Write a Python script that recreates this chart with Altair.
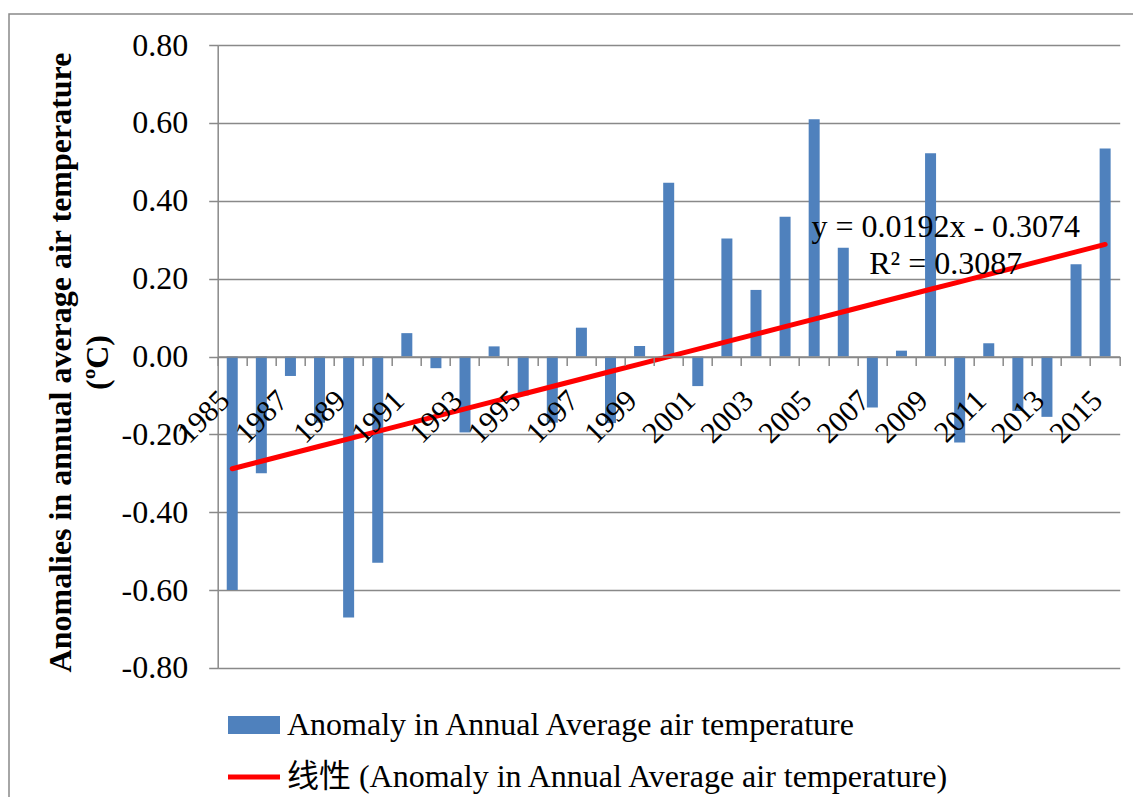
import altair as alt
import pandas as pd

# ---------------- data ----------------
years = ["1985", "1986", "1987", "1988", "1989", "1990", "1991", "1992", "1993", "1994",
         "1995", "1996", "1997", "1998", "1999", "2000", "2001", "2002", "2003", "2004",
         "2005", "2006", "2007", "2008", "2009", "2010", "2011", "2012", "2013", "2014", "2015"]
anomaly = [-0.60, -0.30, -0.05, -0.17, -0.67, -0.53, 0.06, -0.03, -0.195, 0.026,
           -0.10, -0.17, 0.074, -0.171, 0.027, 0.446, -0.076, 0.303, 0.171, 0.359,
           0.609, 0.279, -0.131, 0.015, 0.522, -0.221, 0.034, -0.14, -0.155, 0.237, 0.534]
SLOPE = 0.0192
INTERCEPT = -0.3074
R2 = 0.3087
y_ticks = [-0.8, -0.6, -0.4, -0.2, 0.0, 0.2, 0.4, 0.6, 0.8]
series_names = ["Anomaly in Annual Average air temperature",
                "线性 (Anomaly in Annual Average air temperature)"]
y_title = ["Anomalies in annual average air temperature", "(ºC)"]

df = pd.DataFrame({"year": years, "anomaly": anomaly})
df["trend"] = [SLOPE * (i + 1) + INTERCEPT for i in range(len(years))]
legend_df = pd.DataFrame({"series": series_names})

SERIF = "Liberation Serif, Times New Roman, serif"
GRAY = "#898989"
W, H = 902, 623

x_enc = alt.X(
    "year:O",
    sort=years,
    scale=alt.Scale(paddingInner=0, paddingOuter=0),
    axis=alt.Axis(
        title=None, orient="bottom", offset=-H / 2, grid=False,
        domainColor=GRAY, domainWidth=1.5, tickColor=GRAY, tickWidth=1.5, tickSize=9,
        bandPosition=1, tickExtra=True, labelOffset=-7.3,
        labelAngle=315, labelAlign="right", labelBaseline="middle", labelPadding=30,
        labelFont=SERIF, labelFontSize=30, labelColor="black", labelOverlap=False,
        labelExpr="(toNumber(datum.value) - 1985) % 2 == 0 ? datum.label : ''",
        zindex=1,
    ),
)
y_enc = alt.Y(
    "anomaly:Q",
    scale=alt.Scale(domain=[-0.8, 0.8], nice=False),
    axis=alt.Axis(
        values=y_ticks, grid=True, gridColor=GRAY, gridWidth=1.5,
        domainColor=GRAY, domainWidth=1.5, tickColor=GRAY, tickWidth=1.5, tickSize=9,
        labelExpr="replace(format(datum.value, '.2f'), '\u2212', '-')",
        labelFont=SERIF, labelFontSize=32, labelColor="black", labelPadding=21,
        title=y_title, titleFont=SERIF, titleFontSize=32, titleFontWeight="bold",
        titleColor="black", titleLineHeight=37, titleAngle=270, titleAlign="center",
        titleBaseline="bottom", titleX=-140, titleY=317,
    ),
)

bars = alt.Chart(df).mark_bar(size=11, color="#4F81BD").encode(x=x_enc, y=y_enc)

trend = alt.Chart(df).mark_line(color="#FF0000", strokeWidth=5, strokeCap="round").encode(
    x=alt.X("year:O", sort=years), y=alt.Y("trend:Q")
)

rect_path = "M-1,-0.346H1V0.346H-1Z"
line_path = "M-1,-0.1H1V0.1H-1Z"
leg = alt.Legend(
    title=None, orient="none", legendX=10.3, legendY=654, direction="vertical",
    symbolSize=2704, symbolStrokeWidth=0, symbolOpacity=1, padding=0,
    labelFont="Liberation Serif, Noto Sans CJK SC", labelFontSize=32, labelColor="black",
    labelLimit=2000, labelOffset=7, rowPadding=10,
)
legend_layer = alt.Chart(legend_df).mark_point(filled=True, clip=True).encode(
    x=alt.value(-5000), y=alt.value(-5000),
    color=alt.Color("series:N", scale=alt.Scale(domain=series_names, range=["#4F81BD", "#FF0000"]),
                    legend=leg),
    shape=alt.Shape("series:N", scale=alt.Scale(domain=series_names, range=[rect_path, line_path]),
                    legend=leg),
)

eq1 = alt.Chart(pd.DataFrame({"t": [f"y = {SLOPE}x - {abs(INTERCEPT)}"]})).mark_text(
    font=SERIF, fontSize=32, align="center", baseline="alphabetic", color="black"
).encode(text="t:N", x=alt.value(728), y=alt.value(192))
eq2 = alt.Chart(pd.DataFrame({"t": [f"R² = {R2}"]})).mark_text(
    font=SERIF, fontSize=32, align="center", baseline="alphabetic", color="black"
).encode(text="t:N", x=alt.value(728), y=alt.value(229))

border = alt.Chart(pd.DataFrame({"a": [0]})).mark_rect(
    fillOpacity=0, stroke=GRAY, strokeWidth=1.5
).encode(x=alt.value(-208.7), x2=alt.value(1100), y=alt.value(-31), y2=alt.value(900))

chart = alt.layer(border, bars, trend, eq1, eq2, legend_layer).properties(
    width=W, height=H,
    autosize=alt.AutoSizeParams(type="none"),
    padding={"left": 209.7, "top": 37, "right": 13, "bottom": 129},
).configure(font="Liberation Serif").configure_view(stroke=None).configure_axis(
    labelFont=SERIF, titleFont=SERIF
)

chart.save("out.html", embed_options={"renderer": "svg", "actions": False})
